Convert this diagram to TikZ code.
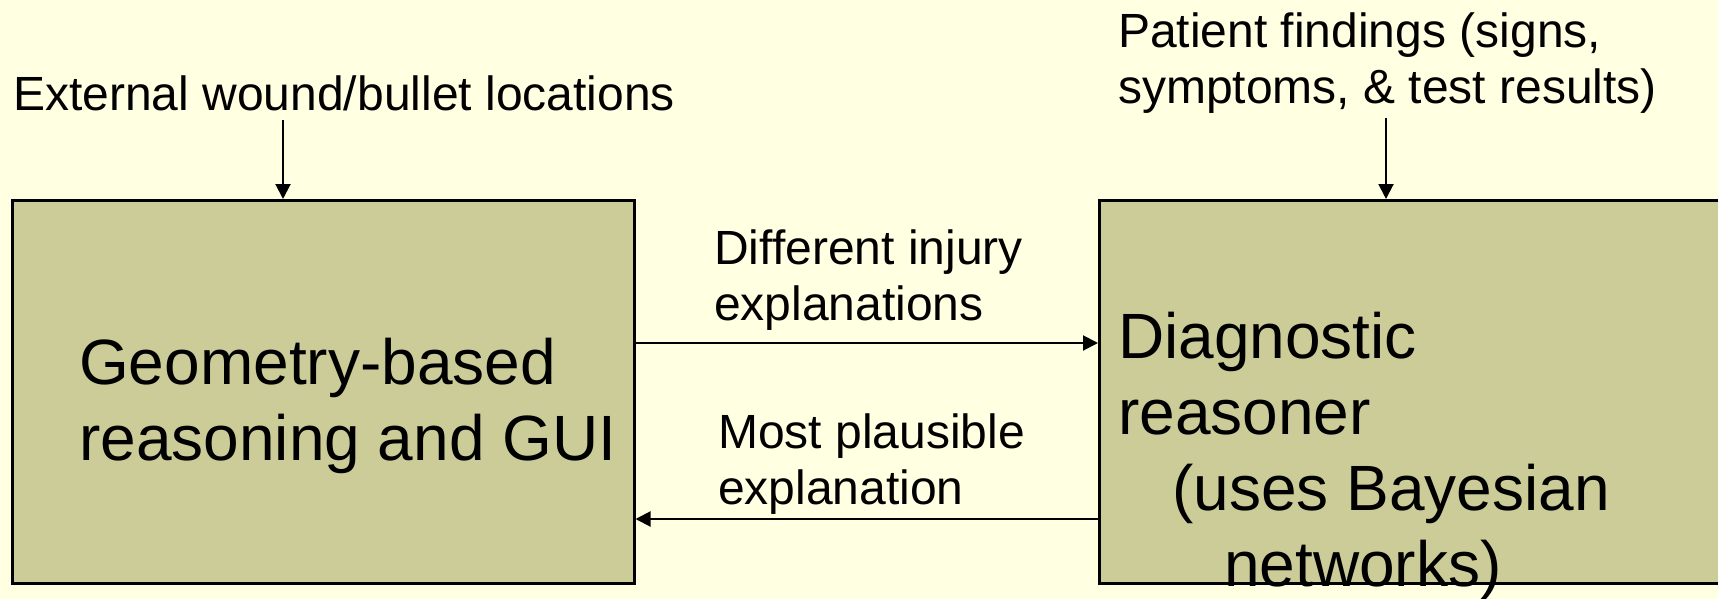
\documentclass[tikz,border=0pt]{standalone}
\usepackage{fontspec}
\setmainfont{Liberation Sans}
\usetikzlibrary{arrows.meta}
\definecolor{bg}{RGB}{255,255,225}
\definecolor{boxfill}{RGB}{204,204,153}
\begin{document}
\begin{tikzpicture}[x=1pt,y=-1pt,
 box/.style={draw=black,line width=2.5pt,fill=boxfill,rectangle,inner sep=0pt,anchor=north west},
 small/.style={font=\fontsize{48}{56}\selectfont,align=left,inner sep=0pt,anchor=base west},
 big/.style={font=\fontsize{64}{76}\selectfont,align=left,inner sep=0pt,anchor=base west},
 arr/.style={line width=2pt,-{Triangle[length=15pt,width=15pt]}}]
\fill[bg] (0,0) rectangle (1718,599);
\useasboundingbox (0,0) rectangle (1718,599);
\clip (0,0) rectangle (1718,599);
\node[box,minimum width=622pt,minimum height=383pt] (geo) at (11,199) {};
\node[box,minimum width=640pt,minimum height=383pt] (diag) at (1098,199) {};
\node[big] (geotext) at (79,460) {Geometry-based\\reasoning and GUI};
\node[big] (diagtext) at (1118,586) {Diagnostic\\reasoner\\\hspace*{54pt}(uses Bayesian\\\hspace*{106pt}networks)};
\node[small] (ext) at (13,111) {External wound/bullet locations};
\node[small] (pat) at (1118,104) {Patient findings (signs,\\symptoms, \& test results)};
\node[small] (diff) at (714,320) {Different injury\\explanations};
\node[small] (most) at (718,504) {Most plausible\\explanation};
\coordinate (extA) at (283,120);
\coordinate (patA) at (1386,118);
\coordinate (hiA) at (0,343);
\coordinate (loA) at (0,519);
\draw[arr] (extA) -- (extA |- geo.north);
\draw[arr] (patA) -- (patA |- diag.north);
\draw[arr] (geo.east |- hiA) -- (diag.west |- hiA);
\draw[arr] (diag.west |- loA) -- (geo.east |- loA);
\end{tikzpicture}
\end{document}
